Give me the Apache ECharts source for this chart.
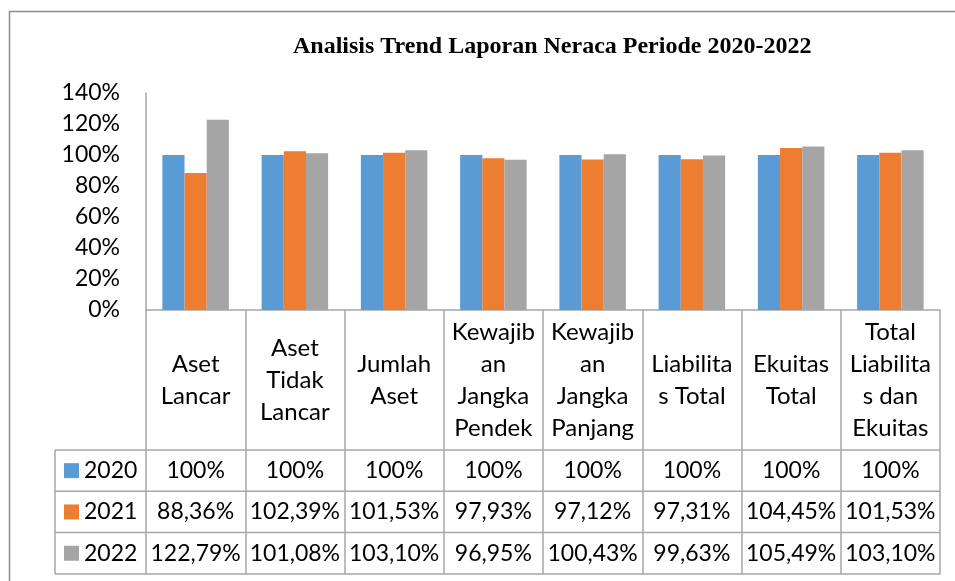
<!DOCTYPE html>
<html>
<head>
<meta charset="utf-8">
<script src="https://cdn.jsdelivr.net/npm/echarts@6/dist/echarts.min.js"></script>
<style>
  html, body { margin: 0; padding: 0; background: #fff; }
  #chart { width: 955px; height: 581px; }
</style>
</head>
<body>
<div id="chart"></div>
<script>
// --- chart data ---
const categories = [
  'Aset\nLancar',
  'Aset\nTidak\nLancar',
  'Jumlah\nAset',
  'Kewajib\nan\nJangka\nPendek',
  'Kewajib\nan\nJangka\nPanjang',
  'Liabilita\ns Total',
  'Ekuitas\nTotal',
  'Total\nLiabilita\ns dan\nEkuitas'
];
const years = ['2020', '2021', '2022'];
const values2020 = [100, 100, 100, 100, 100, 100, 100, 100];
const values2021 = [88.36, 102.39, 101.53, 97.93, 97.12, 97.31, 104.45, 101.53];
const values2022 = [122.79, 101.08, 103.10, 96.95, 100.43, 99.63, 105.49, 103.10];
const yMin = 0, yMax = 140, yStep = 20;

const colors = ['#5B9BD5', '#ED7D31', '#A5A5A5'];
const lineColor = '#a6a6a6';
const font = 'Lato, "Open Sans", sans-serif';

// layout (pixels)
const plotLeft = 146, plotRight = 940, plotTop = 93, plotBottom = 310;
const headerBottom = 450, rowH = 41.3, tableLeft = 55;

// 100 -> "100%", 88.36 -> "88,36%"
function pct(v) {
  return Number.isInteger(v) ? v + '%' : v.toFixed(2).replace('.', ',') + '%';
}

const rows = [values2020, values2021, values2022];

// one hidden category axis per table row, used only for its labels
const tableAxes = rows.map((vals, i) => ({
  type: 'category',
  gridIndex: 0,
  position: 'bottom',
  offset: headerBottom - plotBottom + rowH * (i + 0.5),
  data: vals.map(pct),
  axisLine: { show: false },
  axisTick: { show: false },
  axisLabel: {
    interval: 0, margin: 0, verticalAlign: 'middle',
    color: '#000', fontFamily: font, fontSize: 23
  }
}));

// one legend per table row so each key sits in its own row
const legends = years.map((y, i) => ({
  data: [y],
  left: 64,
  top: headerBottom + rowH * (i + 0.5) - 12,
  padding: 0,
  icon: 'rect',
  itemWidth: 15, itemHeight: 15,
  selectedMode: false,
  textStyle: { fontFamily: font, fontSize: 23, lineHeight: 24, color: '#000' }
}));

// table rules
const hLines = [0, 1, 2, 3].map(i => ({
  type: 'line',
  shape: { x1: tableLeft, y1: headerBottom + rowH * i, x2: plotRight, y2: headerBottom + rowH * i },
  style: { stroke: lineColor, lineWidth: 1.5 }
}));

const chart = echarts.init(document.getElementById('chart'));
chart.setOption({
  animation: false,
  color: colors,
  title: {
    text: 'Analisis Trend Laporan Neraca Periode 2020-2022',
    left: 288, top: 30,
    textStyle: { fontFamily: '"Liberation Serif", "Times New Roman", serif', fontWeight: 'bold', fontSize: 24, color: '#000' }
  },
  legend: legends,
  grid: {
    left: plotLeft, right: 955 - plotRight, top: plotTop, bottom: 581 - plotBottom,
    containLabel: false
  },
  xAxis: [{
    type: 'category',
    data: categories,
    axisLine: { lineStyle: { color: lineColor, width: 1.5 } },
    axisTick: {
      show: true, interval: 0, length: headerBottom - plotBottom + rowH * 3,
      lineStyle: { color: lineColor, width: 1.5 }
    },
    axisLabel: {
      interval: 0, margin: (headerBottom - plotBottom) / 2, verticalAlign: 'middle',
      lineHeight: 32, color: '#000', fontFamily: font, fontSize: 24
    }
  }].concat(tableAxes),
  yAxis: {
    type: 'value',
    min: yMin, max: yMax, interval: yStep,
    axisLine: { show: true, lineStyle: { color: lineColor, width: 1.5 } },
    axisTick: { show: false },
    splitLine: { show: false },
    axisLabel: {
      formatter: '{value}%', margin: 26,
      color: '#000', fontFamily: font, fontSize: 23
    }
  },
  series: rows.map((vals, i) => ({
    name: years[i],
    type: 'bar',
    data: vals,
    barGap: '0%',
    barCategoryGap: '33%'
  })),
  graphic: [
    {
      type: 'rect',
      shape: { x: 9.5, y: 11.5, width: 1000, height: 1000 },
      style: { fill: null, stroke: '#8c8c8c', lineWidth: 1.5 }
    },
    {
      type: 'line',
      shape: { x1: tableLeft, y1: headerBottom, x2: tableLeft, y2: headerBottom + rowH * 3 },
      style: { stroke: lineColor, lineWidth: 1.5 }
    }
  ].concat(hLines)
});
</script>
</body>
</html>
